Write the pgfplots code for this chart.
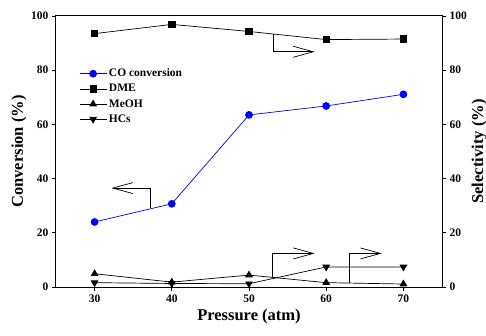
\documentclass[border=0pt]{standalone}
\usepackage{fontspec}
\setmainfont{Liberation Serif}
\usepackage{pgfplots}
\pgfplotsset{compat=1.18}
\usetikzlibrary{arrows.meta}
\begin{document}
\begin{tikzpicture}
\pgfplotsset{
  common/.style={
    scale only axis, width=386pt, height=271pt,
    xmin=25, xmax=75, ymin=0, ymax=100,
    ytick={0,20,...,100},
    tick align=outside,
    tick style={black, line width=0.8pt},
    major tick length=4pt,
    axis line style={line width=1pt},
    tick label style={font=\fontsize{11.5}{13}\selectfont\bfseries},
    /pgf/number format/assume math mode=true,
    label style={font=\fontsize{16.5}{19}\selectfont\bfseries},
  }
}
\begin{axis}[common, name=ax,
  xtick={30,40,50,60,70}, xtick pos=bottom, ytick pos=left,
  xlabel={Pressure (atm)}, ylabel={Conversion (\%)},
  ylabel style={yshift=-2pt},
  legend cell align=left,
  legend style={draw=none, fill=none, at={(rel axis cs:0.052,0.82)}, anchor=north west,
    font=\fontsize{11.5}{13}\selectfont\bfseries, row sep=2pt},
  legend image code/.code={\draw[mark repeat=2,mark phase=2] plot coordinates {(0pt,0pt) (13.5pt,0pt) (27pt,0pt)};},
]
\addplot[blue, line width=0.7pt, mark=*, mark size=3.5pt, mark options={fill=blue}] coordinates {(30,24) (40,30.7) (50,63.5) (60,66.8) (70,71.1)};
\addlegendentry{CO conversion}
\addplot[black, line width=0.7pt, mark=square*, mark size=3.2pt] coordinates {(30,93.5) (40,96.9) (50,94.3) (60,91.3) (70,91.5)};
\addlegendentry{DME}
\addplot[black, line width=0.7pt, mark=triangle*, mark size=3.8pt] coordinates {(30,4.9) (40,1.8) (50,4.4) (60,1.6) (70,1.1)};
\addlegendentry{MeOH}
\addplot[black, line width=0.7pt, mark=triangle*, mark size=3.8pt, mark options={rotate=180}] coordinates {(30,1.6) (40,1.3) (50,1.2) (60,7.4) (70,7.4)};
\addlegendentry{HCs}
\draw[line width=0.7pt, -{Straight Barb[length=20pt,width=11pt]}] (axis cs:37.26,29.2) -- (axis cs:37.26,36.5) -- (axis cs:32.2,36.5);
\draw[line width=0.7pt, -{Straight Barb[length=20pt,width=11pt]}] (axis cs:53.2,93.2) -- (axis cs:53.2,86.8) -- (axis cs:58.5,86.8);
\draw[line width=0.7pt, -{Straight Barb[length=20pt,width=11pt]}] (axis cs:53.0,3.6) -- (axis cs:53.0,12.4) -- (axis cs:58.5,12.4);
\draw[line width=0.7pt, -{Straight Barb[length=20pt,width=11pt]}] (axis cs:63.0,1.4) -- (axis cs:63.0,12.4) -- (axis cs:67.2,12.4);
\end{axis}
\begin{axis}[common, axis x line=none, axis y line*=right, ytick pos=right,
  ylabel={Selectivity (\%)}, ylabel style={yshift=2pt}]
\end{axis}
\pgfresetboundingbox
\path[use as bounding box] ([xshift=-56pt,yshift=-48pt]ax.south west) rectangle ([xshift=44pt,yshift=16pt]ax.north east);
\end{tikzpicture}
\end{document}
